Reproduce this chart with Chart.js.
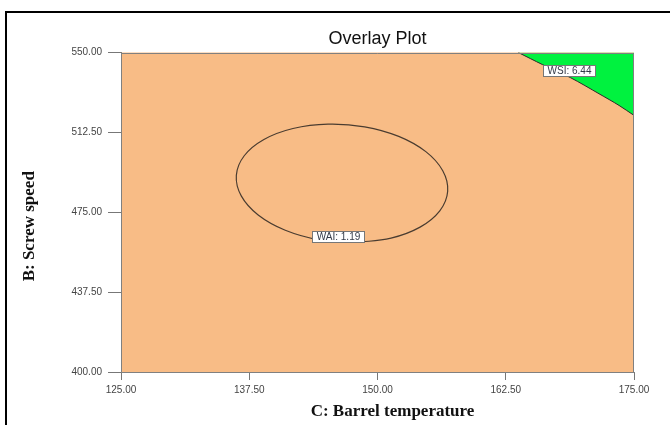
<!DOCTYPE html>
<html><head><meta charset="utf-8">
<script src="https://cdn.jsdelivr.net/npm/chart.js@4/dist/chart.umd.min.js"></script>
<style>html,body{margin:0;padding:0;background:#fff;}canvas{display:block;}</style>
</head><body>
<canvas id="c" width="670" height="425"></canvas>
<script>
const chartTitle = 'Overlay Plot';
const xAxisTitle = 'C: Barrel temperature';
const yAxisTitle = 'B: Screw speed';
const xTicks = [125, 137.5, 150, 162.5, 175];
const yTicks = [400, 437.5, 475, 512.5, 550];

// WAI = 1.19 contour (C, B)
const waiX = [147.90, 144.33, 141.01, 138.37, 136.72, 136.24, 137.01, 138.93, 141.76, 145.18,
              148.75, 152.07, 154.71, 156.36, 156.84, 156.07, 154.15, 151.32, 147.90];
const waiY = [460.80, 462.06, 466.56, 473.73, 482.69, 492.32, 501.53, 509.17, 514.33, 516.39,
              515.12, 510.62, 503.45, 494.50, 484.87, 475.66, 468.02, 462.86, 460.80];

// WSI = 6.44 contour bounding the green region (top-right)
const wsiX = [163.72, 166.06, 168.83, 171.59, 173.54, 175.00];
const wsiY = [550.00, 544.38, 538.14, 530.64, 525.16, 520.47];

const contourLabels = ['WAI: 1.19', 'WSI: 6.44'];
const labelX = [146.15, 168.71];
const labelY = [463.75, 541.33];

const SANS = '"Liberation Sans", Arial, sans-serif';
const SERIF = '"Liberation Serif", "Times New Roman", serif';

const decor = {
  id: 'decor',
  beforeDraw(chart) {
    const {ctx, chartArea: a} = chart;
    ctx.save();
    ctx.fillStyle = '#ffffff';
    ctx.fillRect(0, 0, chart.width, chart.height);
    ctx.fillStyle = '#F8BC86';
    ctx.fillRect(a.left, a.top, a.right - a.left, a.bottom - a.top);
    ctx.strokeStyle = '#000';
    ctx.lineWidth = 2;
    ctx.beginPath();
    ctx.moveTo(6, 425); ctx.lineTo(6, 12); ctx.lineTo(670, 12);
    ctx.stroke();
    ctx.restore();
  },
  afterDraw(chart) {
    const {ctx, chartArea: a} = chart;
    const xs = chart.scales.x, ys = chart.scales.y;
    ctx.save();
    ctx.strokeStyle = '#808080';
    ctx.lineWidth = 1;
    ctx.beginPath();
    ctx.moveTo(a.left, Math.round(a.top) + 0.5);
    ctx.lineTo(Math.round(a.right) - 0.5, Math.round(a.top) + 0.5);
    ctx.lineTo(Math.round(a.right) - 0.5, a.bottom);
    ctx.stroke();

    // contour labels
    ctx.font = '10px ' + SANS;
    ctx.textAlign = 'center';
    ctx.textBaseline = 'middle';
    contourLabels.forEach((t, i) => {
      const px = xs.getPixelForValue(labelX[i]);
      const py = ys.getPixelForValue(labelY[i]);
      const w = Math.round(ctx.measureText(t).width + 8), h = 11;
      const lx = Math.round(px - w / 2), ly = Math.round(py - h / 2);
      ctx.fillStyle = '#fff';
      ctx.fillRect(lx, ly, w, h);
      ctx.strokeStyle = '#777';
      ctx.strokeRect(lx + 0.5, ly + 0.5, w, h);
      ctx.fillStyle = '#333a48';
      ctx.fillText(t, lx + w / 2 + 0.5, ly + h / 2 + 1);
    });

    // axis titles
    ctx.font = 'bold 17px ' + SERIF;
    ctx.fillStyle = '#111';
    ctx.fillText(xAxisTitle, (a.left + a.right) / 2 + 15, 412);
    ctx.translate(30, (a.top + a.bottom) / 2 + 14);
    ctx.rotate(-Math.PI / 2);
    ctx.fillText(yAxisTitle, 0, 0);
    ctx.restore();
  }
};

new Chart(document.getElementById('c'), {
  type: 'scatter',
  data: {
    datasets: [
      {
        label: 'WSI',
        data: wsiX.map((x, i) => ({x, y: wsiY[i]})),
        showLine: true,
        fill: 'end',
        backgroundColor: '#00F23F',
        borderColor: '#2a2a2a',
        borderWidth: 1,
        pointRadius: 0,
        tension: 0.3
      },
      {
        label: 'WAI',
        data: waiX.map((x, i) => ({x, y: waiY[i]})),
        showLine: true,
        fill: false,
        borderColor: '#4a3c30',
        borderWidth: 1.2,
        pointRadius: 0,
        tension: 0.4
      }
    ]
  },
  options: {
    responsive: false,
    animation: false,
    devicePixelRatio: 1,
    layout: { padding: { left: 0, right: 36, top: 0, bottom: 0 } },
    plugins: {
      legend: { display: false },
      tooltip: { enabled: false },
      title: {
        display: true,
        text: chartTitle,
        fullSize: false,
        color: '#111',
        font: { family: SANS, size: 18, weight: 'normal' },
        padding: { top: 28, bottom: 2.9 }
      }
    },
    scales: {
      x: {
        type: 'linear', min: 125, max: 175,
        afterBuildTicks: s => { s.ticks = xTicks.map(v => ({value: v})); },
        afterFit: s => { s.height = 53; },
        ticks: {
          callback: v => Number(v).toFixed(2),
          font: { family: SANS, size: 10 }, color: '#444',
          padding: 4, maxRotation: 0, autoSkip: false
        },
        grid: { drawOnChartArea: false, drawTicks: true, tickLength: 8, color: '#777' },
        border: { color: '#808080', width: 1 },
        title: { display: false, text: xAxisTitle }
      },
      y: {
        type: 'linear', min: 400, max: 550,
        afterBuildTicks: s => { s.ticks = yTicks.map(v => ({value: v})); },
        afterFit: s => { s.width = 121; },
        ticks: {
          callback: v => Number(v).toFixed(2),
          font: { family: SANS, size: 10 }, color: '#444',
          padding: 6, autoSkip: false
        },
        grid: { drawOnChartArea: false, drawTicks: true, tickLength: 13, color: '#777' },
        border: { color: '#808080', width: 1 },
        title: { display: false, text: yAxisTitle }
      }
    }
  },
  plugins: [decor]
});
</script>
</body></html>
